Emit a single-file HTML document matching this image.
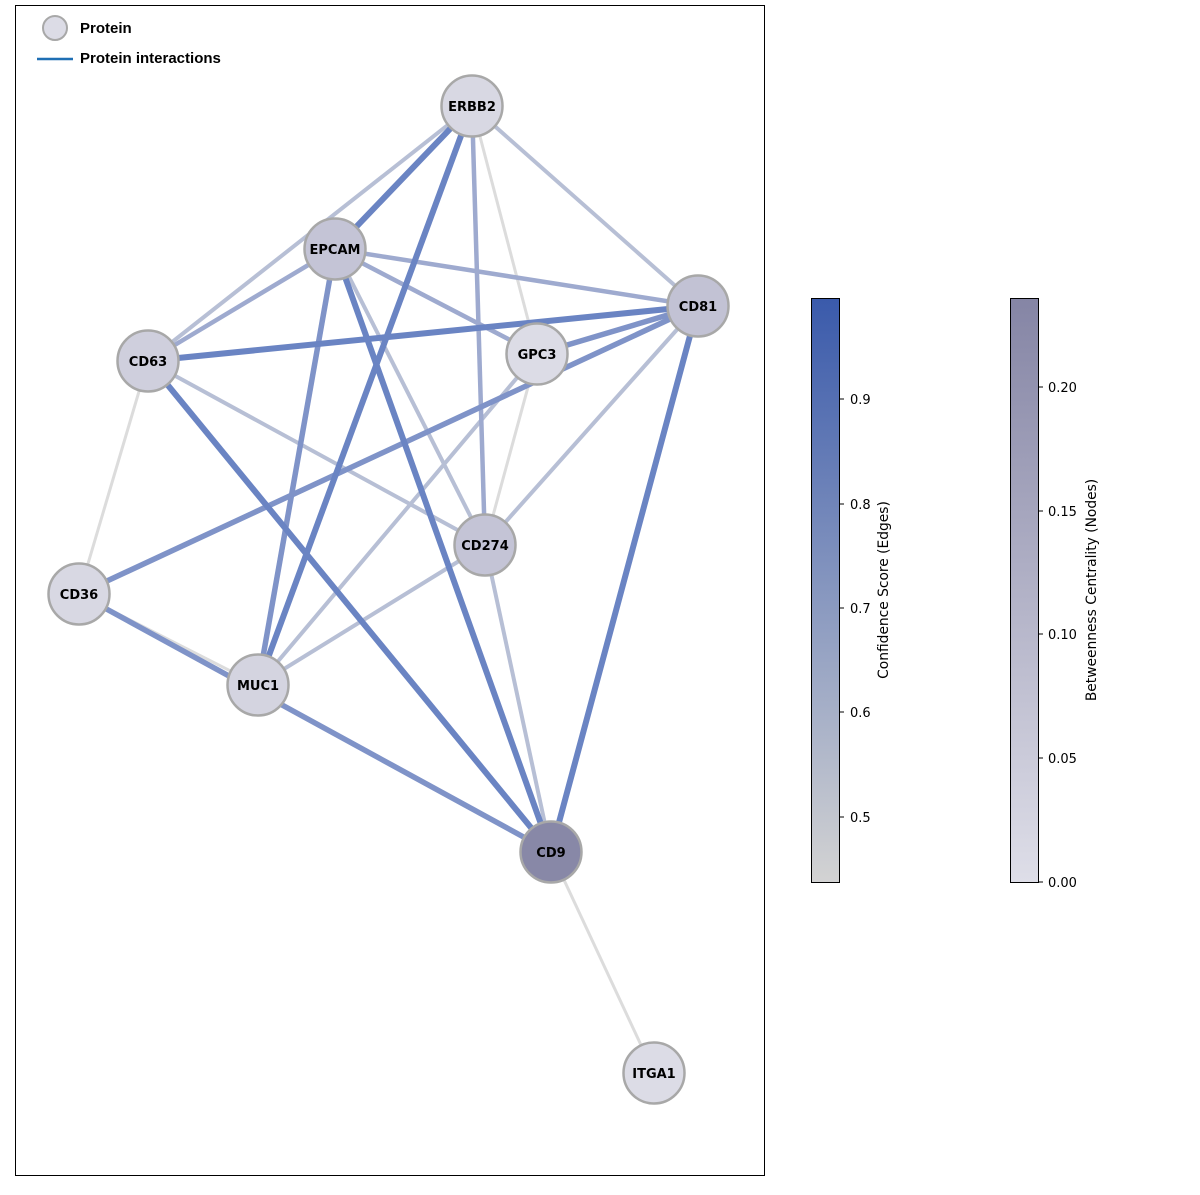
<!DOCTYPE html>
<html><head><meta charset="utf-8"><style>
body{margin:0;background:#fff;}
svg text{font-family:"DejaVu Sans","Liberation Sans",sans-serif;}
svg text.lg{font-family:"Liberation Sans","DejaVu Sans",sans-serif;}
</style></head><body>
<svg width="1200" height="1190" xmlns="http://www.w3.org/2000/svg">
<defs>
<linearGradient id="g1" x1="0" y1="1" x2="0" y2="0"><stop offset="0" stop-color="#d3d3d3"/><stop offset="1" stop-color="#3a5aab"/></linearGradient>
<linearGradient id="g2" x1="0" y1="1" x2="0" y2="0"><stop offset="0" stop-color="#dedee8"/><stop offset="1" stop-color="#8585a5"/></linearGradient>
</defs>
<rect x="15.5" y="5.5" width="749" height="1170" fill="none" stroke="#000" stroke-width="1"/>
<g stroke-linecap="butt">
<g stroke="#dcdcdc" stroke-width="3">
<line x1="472" y1="106" x2="537" y2="354"/>
<line x1="148" y1="361" x2="79" y2="594"/>
<line x1="537" y1="354" x2="485" y2="545"/>
<line x1="551" y1="852" x2="654" y2="1073"/>
<line x1="79" y1="594" x2="258" y2="685"/>
</g>
<g stroke="#b7bfd5" stroke-width="4">
<line x1="472" y1="106" x2="148" y2="361"/>
<line x1="472" y1="106" x2="698" y2="306"/>
<line x1="335" y1="249" x2="485" y2="545"/>
<line x1="148" y1="361" x2="485" y2="545"/>
<line x1="698" y1="306" x2="485" y2="545"/>
<line x1="537" y1="354" x2="258" y2="685"/>
<line x1="485" y1="545" x2="258" y2="685"/>
<line x1="485" y1="545" x2="551" y2="852"/>
</g>
<g stroke="#9eaacf" stroke-width="4.5">
<line x1="472" y1="106" x2="485" y2="545"/>
<line x1="335" y1="249" x2="148" y2="361"/>
<line x1="335" y1="249" x2="698" y2="306"/>
<line x1="335" y1="249" x2="537" y2="354"/>
</g>
<g stroke="#7f93c8" stroke-width="5.5">
<line x1="335" y1="249" x2="258" y2="685"/>
<line x1="698" y1="306" x2="79" y2="594"/>
<line x1="79" y1="594" x2="551" y2="852"/>
<line x1="698" y1="306" x2="537" y2="354"/>
</g>
<g stroke="#6a84c3" stroke-width="6">
<line x1="472" y1="106" x2="335" y2="249"/>
<line x1="472" y1="106" x2="258" y2="685"/>
<line x1="335" y1="249" x2="551" y2="852"/>
<line x1="148" y1="361" x2="698" y2="306"/>
<line x1="148" y1="361" x2="551" y2="852"/>
<line x1="698" y1="306" x2="551" y2="852"/>
</g>
</g>
<g stroke="#a8a8a8" stroke-width="2.5">
<circle cx="472" cy="106" r="30.5" fill="#d8d8e3"/>
<circle cx="335" cy="249" r="30.5" fill="#c4c4d6"/>
<circle cx="698" cy="306" r="30.5" fill="#c2c2d4"/>
<circle cx="537" cy="354" r="30.5" fill="#dcdce6"/>
<circle cx="148" cy="361" r="30.5" fill="#cfcfdd"/>
<circle cx="485" cy="545" r="30.5" fill="#c4c4d6"/>
<circle cx="79" cy="594" r="30.5" fill="#d8d8e3"/>
<circle cx="258" cy="685" r="30.5" fill="#d4d4e0"/>
<circle cx="551" cy="852" r="30.5" fill="#8888a7"/>
<circle cx="654" cy="1073" r="30.5" fill="#dcdce6"/>
</g>
<g font-size="13" font-weight="bold" text-anchor="middle" fill="#000">
<text x="472" y="111">ERBB2</text>
<text x="335" y="254">EPCAM</text>
<text x="698" y="311">CD81</text>
<text x="537" y="359">GPC3</text>
<text x="148" y="366">CD63</text>
<text x="485" y="550">CD274</text>
<text x="79" y="599">CD36</text>
<text x="258" y="690">MUC1</text>
<text x="551" y="857">CD9</text>
<text x="654" y="1078">ITGA1</text>
</g>
<circle cx="55" cy="28" r="12" fill="#dcdce6" stroke="#a8a8a8" stroke-width="2"/>
<text class="lg" x="80" y="33" font-size="15" font-weight="bold">Protein</text>
<line x1="37" y1="59" x2="73" y2="59" stroke="#1f6fb4" stroke-width="2.5"/>
<text class="lg" x="80" y="63" font-size="15" font-weight="bold">Protein interactions</text>
<rect x="811.5" y="298.5" width="28" height="584" fill="url(#g1)" stroke="#000" stroke-width="1"/>
<g stroke="#000">
<line x1="840" y1="817" x2="844" y2="817"/><line x1="840" y1="712" x2="844" y2="712"/><line x1="840" y1="608" x2="844" y2="608"/><line x1="840" y1="504" x2="844" y2="504"/><line x1="840" y1="399" x2="844" y2="399"/>
</g>
<g font-size="13" fill="#000">
<text x="850" y="822">0.5</text><text x="850" y="717">0.6</text><text x="850" y="613">0.7</text><text x="850" y="509">0.8</text><text x="850" y="404">0.9</text>
<text transform="translate(888,590) rotate(-90)" text-anchor="middle" font-size="13.8">Confidence Score (Edges)</text>
</g>
<rect x="1010.5" y="298.5" width="28" height="584" fill="url(#g2)" stroke="#000" stroke-width="1"/>
<g stroke="#000">
<line x1="1039" y1="882" x2="1043" y2="882"/><line x1="1039" y1="758" x2="1043" y2="758"/><line x1="1039" y1="634" x2="1043" y2="634"/><line x1="1039" y1="511" x2="1043" y2="511"/><line x1="1039" y1="387" x2="1043" y2="387"/>
</g>
<g font-size="13" fill="#000">
<text x="1048" y="887">0.00</text><text x="1048" y="763">0.05</text><text x="1048" y="639">0.10</text><text x="1048" y="516">0.15</text><text x="1048" y="392">0.20</text>
<text transform="translate(1096,590) rotate(-90)" text-anchor="middle" font-size="13.8">Betweenness Centrality (Nodes)</text>
</g>
</svg>
</body></html>
